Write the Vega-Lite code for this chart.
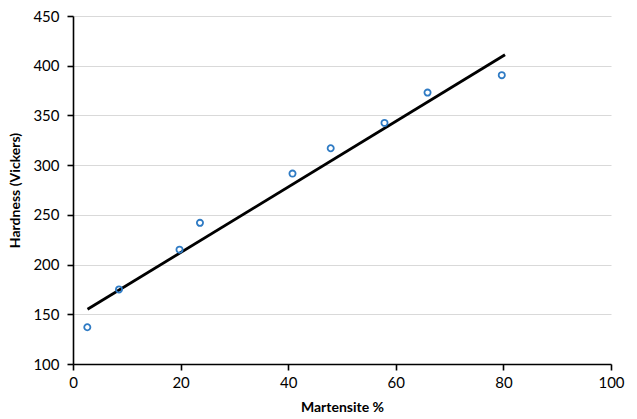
{
  "$schema": "https://vega.github.io/schema/vega-lite/v6.json",
  "width": 538,
  "height": 348,
  "autosize": {"type": "none"},
  "padding": {"left": 73, "top": 16, "right": 26, "bottom": 55},
  "background": "white",
  "config": {
    "view": {"stroke": null},
    "font": "Lato",
    "axis": {
      "labelFont": "Lato",
      "titleFont": "Lato",
      "labelFontSize": 15,
      "titleFontSize": 14,
      "labelColor": "#000000",
      "titleColor": "#000000",
      "domainColor": "#000000",
      "domainWidth": 1.6,
      "tickColor": "#000000",
      "tickWidth": 1.6,
      "tickSize": 6,
      "gridColor": "#d9d9d9",
      "gridWidth": 1.2
    }
  },
  "datasets": {
    "points": [
      {"m": 2.66, "h": 137},
      {"m": 8.55, "h": 175},
      {"m": 19.8, "h": 215},
      {"m": 23.6, "h": 242},
      {"m": 40.8, "h": 291.5},
      {"m": 47.9, "h": 317},
      {"m": 57.9, "h": 342.5},
      {"m": 65.9, "h": 373},
      {"m": 79.7, "h": 390.5}
    ],
    "fit": [
      {"m": 2.7, "h": 155},
      {"m": 80.3, "h": 411}
    ]
  },
  "layer": [
    {
      "data": {"name": "fit"},
      "mark": {"type": "line", "color": "#000000", "strokeWidth": 2.8},
      "encoding": {
        "x": {"field": "m", "type": "quantitative", "scale": {"domain": [0, 100]},
          "axis": {"title": "Martensite %", "values": [0, 20, 40, 60, 80, 100], "grid": false, "labelFlush": false, "titleFontWeight": "bold", "titlePadding": 10, "labelPadding": 5}},
        "y": {"field": "h", "type": "quantitative", "scale": {"domain": [100, 450]},
          "axis": {"title": "Hardness (Vickers)", "values": [100, 150, 200, 250, 300, 350, 400, 450], "grid": true, "labelFlush": false, "titleFontWeight": "bold", "titlePadding": 10, "labelPadding": 8}}
      }
    },
    {
      "data": {"name": "points"},
      "mark": {"type": "point", "shape": "circle", "filled": false, "color": "#2f7bc4", "strokeWidth": 1.8, "size": 38, "opacity": 1},
      "encoding": {
        "x": {"field": "m", "type": "quantitative"},
        "y": {"field": "h", "type": "quantitative"}
      }
    }
  ]
}
